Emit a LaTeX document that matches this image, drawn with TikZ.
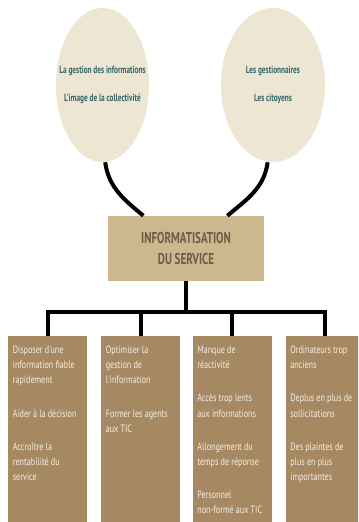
\documentclass[tikz,border=0pt]{standalone}
\usepackage{fontspec}
\setmainfont{PT Sans}
\newfontfamily\cellfont{PT Sans}[FakeStretch=0.76]
\newfontfamily\corefont{PT Sans}[FakeStretch=0.7]
\newfontfamily\topicfont{PT Sans}[FakeStretch=0.7]
\usetikzlibrary{shapes.geometric, positioning}

\definecolor{sand}{HTML}{ECE6D3}
\definecolor{tealtext}{HTML}{356666}
\definecolor{corefill}{HTML}{CDB78E}
\definecolor{coretext}{HTML}{6E5C49}
\definecolor{cellfill}{HTML}{A68962}
\definecolor{celltext}{HTML}{F4EEE4}

% text of one bottom box, lines broken as in the picture
\newcommand{\cellbody}[1]{\parbox[c][139.5pt][t]{52pt}{\raggedright\rule{0pt}{12.9pt}#1}}

\begin{document}
\begin{tikzpicture}[
		x=0.75pt, y=-0.75pt,
		topic/.style={ellipse, fill=sand, minimum width=69.75pt, minimum height=115.5pt, inner sep=0pt},
		topictext/.style={text=tealtext, align=center, font=\topicfont\bfseries\fontsize{7.8}{21}\selectfont},
		core/.style={fill=corefill, minimum width=117pt, minimum height=48.75pt, align=center, text=coretext, font=\corefont\bfseries\fontsize{11.8}{15.75}\selectfont},
		cell/.style={fill=cellfill, minimum width=59.25pt, inner sep=0pt, text=celltext, font=\cellfont\fontsize{8}{11.4}\selectfont},
		link/.style={line width=3pt}
	]
	\useasboundingbox (0,0) rectangle (358,522);
	\clip (0,0) rectangle (358,522);

	% Nodes
	\node[topic, label={[topictext]center:La gestion des informations\\L'image de la collectivité}] (stakes) at (102.5,85) {};
	\node[topic, minimum width=78pt, label={[topictext]center:Les gestionnaires\\Les citoyens}] (actors) at (273,85) {};
	\node[core] (core) at (186,248.5) {INFORMATISATION\\DU SERVICE};

	\node[cell, anchor=north] (aims) at (47.5,336) {\cellbody{Disposer d'une\\ information fiable\\ rapidement\\[13.5pt] Aider à la décision\\[13.5pt] Accroître la\\ rentabilité du\\ service}};
	\node[cell, anchor=north] (means) at (140.5,336) {\cellbody{Optimiser la\\ gestion de\\ l'information\\[13.5pt] Former les agents\\ aux TIC}};
	\node[cell, anchor=north] (issues) at (232,336) {\cellbody{Manque de\\ réactivité\\[13.5pt] Accès trop lents\\ aux informations\\[13.5pt] Allongement du\\ temps de réponse\\[13.5pt] Personnel\\ non-formé aux TIC}};
	\node[cell, anchor=north] (causes) at (325,336) {\cellbody{Ordinateurs trop\\ anciens\\[13.5pt] Deplus en plus de\\ sollicitations\\[13.5pt] Des plaintes de\\ plus en plus\\ importantes}};

	% Links
	\draw[link] ([xshift=2pt]stakes.south) to[out=-82, in=140] ([xshift=-32pt]core.north);
	\draw[link] ([xshift=-4pt]actors.south) to[out=-98, in=40] ([xshift=31pt]core.north);
	\coordinate (hub) at (186,312);
	\draw[link] (core.south) -- (hub);
	\draw[link] (aims.north) |- (hub) -| (causes.north);
	\draw[link] (means.north) -- (means.north |- hub);
	\draw[link] (issues.north) -- (issues.north |- hub);

\end{tikzpicture}
\end{document}
